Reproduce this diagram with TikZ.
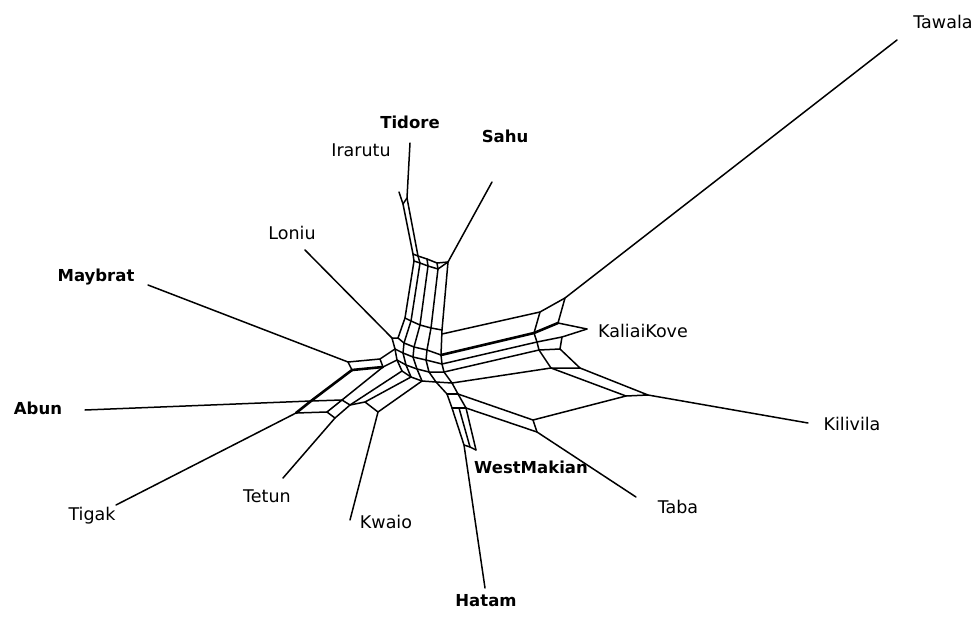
\documentclass[tikz,border=0pt]{standalone}
\usepackage{fontspec}
\newfontfamily\labfont{DejaVu Sans}
\begin{document}
\begin{tikzpicture}[x=1pt,y=-1pt,
  edge/.style={line width=1.5pt,line join=round,line cap=round},
  heavy/.style={line width=2.6pt,line join=round,line cap=round},
  taxon/.style={font=\labfont\fontsize{17.5}{21}\selectfont,inner sep=0pt},
  taxonb/.style={taxon,font=\labfont\bfseries\fontsize{16.5}{20}\selectfont}]
\useasboundingbox (0,0) rectangle (977,616);

% ---- taxon labels
\node[taxon]  (Tawala)     at (943,22)  {Tawala};
\node[taxonb] (Tidore)     at (410,122) {Tidore};
\node[taxonb] (Sahu)       at (505,136) {Sahu};
\node[taxon]  (Irarutu)    at (361,150) {Irarutu};
\node[taxon]  (Loniu)      at (292,233) {Loniu};
\node[taxonb] (Maybrat)    at (96,277)  {Maybrat};
\node[taxon]  (KaliaiKove) at (643,331) {KaliaiKove};
\node[taxonb] (Abun)       at (38,408)  {Abun};
\node[taxon]  (Kilivila)   at (852,424) {Kilivila};
\node[taxonb] (WestMakian) at (531,467) {WestMakian};
\node[taxon]  (Tetun)      at (267,496) {Tetun};
\node[taxon]  (Taba)       at (678,507) {Taba};
\node[taxon]  (Tigak)      at (92,516)  {Tigak};
\node[taxon]  (Kwaio)      at (386,522) {Kwaio};
\node[taxonb] (Hatam)      at (486,601) {Hatam};

% ---- outer ends of the pendant edges
\coordinate (tawE) at (897,40);
\coordinate (tidE) at (410,143);
\coordinate (irE)  at (399,192);
\coordinate (sahE) at (492,182);
\coordinate (lonE) at (305,250);
\coordinate (mayE) at (148,285);
\coordinate (kalE) at (587,329);
\coordinate (abuE) at (85,410);
\coordinate (kilE) at (808,423);
\coordinate (tabE) at (636,497);
\coordinate (tigE) at (116,505);
\coordinate (tetE) at (283,478);
\coordinate (kwaE) at (350,520);
\coordinate (hatE) at (485,588);

% ---- upper group (Tidore, Irarutu, Sahu)
\coordinate (ti1) at (407,198);
\coordinate (ir1) at (403,204);
\coordinate (a1) at (413,254); \coordinate (a2) at (418,256);
\coordinate (a3) at (427,259); \coordinate (a4) at (437,263);
\coordinate (a5) at (448,262);
\coordinate (b1) at (414,261); \coordinate (b2) at (420,263);
\coordinate (b3) at (428,266); \coordinate (b4) at (438,269);
\coordinate (c1) at (405,318); \coordinate (c2) at (411,321);
\coordinate (c3) at (420,325); \coordinate (c4) at (431,328);
\coordinate (c5) at (442,330);
\coordinate (d1) at (398,338); \coordinate (d2) at (404,343);
\coordinate (d3) at (414,347); \coordinate (d4) at (427,350);
\coordinate (d5) at (441,355);
\coordinate (P0) at (442,334);

% ---- central rings
\coordinate (lonA) at (392,338);
\coordinate (r1) at (395,349); \coordinate (r2) at (403,353);
\coordinate (r3) at (413,357); \coordinate (r4) at (426,360);
\coordinate (r5) at (442,364);
\coordinate (s1) at (397,360); \coordinate (s2) at (406,365);
\coordinate (s3) at (417,369); \coordinate (s4) at (429,372);
\coordinate (s5) at (444,372);
\coordinate (q1) at (402,371); \coordinate (q2) at (411,377);
\coordinate (q3) at (422,381); \coordinate (q4) at (436,382);
\coordinate (q5) at (452,383);

% ---- left group
\coordinate (mayA) at (348,362); \coordinate (M2) at (352,370);
\coordinate (mc1) at (380,359);  \coordinate (mc2) at (383,367);
\coordinate (abA) at (311,401);  \coordinate (tgA) at (296,413);
\coordinate (A2) at (342,400);   \coordinate (A3) at (327,412);
\coordinate (A4) at (335,418);   \coordinate (A5) at (350,405);
\coordinate (A6) at (365,402);   \coordinate (kwA) at (378,412);

% ---- right group
\coordinate (P1) at (540,312); \coordinate (Tw) at (565,298);
\coordinate (Q1) at (534,333); \coordinate (Q2) at (558,323);
\coordinate (R1) at (537,342); \coordinate (R2) at (562,337);
\coordinate (S1) at (539,350); \coordinate (S2) at (560,349);
\coordinate (T1) at (551,368); \coordinate (T2) at (580,368);
\coordinate (Kv1) at (626,396); \coordinate (Kv2) at (648,395);
\coordinate (Tb1) at (533,420); \coordinate (Tb2) at (537,432);

% ---- lower group (Hatam, WestMakian)
\coordinate (h1) at (447,394); \coordinate (h2) at (452,408);
\coordinate (hatA) at (464,445);
\coordinate (w1) at (458,394); \coordinate (w2) at (466,408);
\coordinate (m2) at (459,408); \coordinate (m3) at (470,447);
\coordinate (wmA) at (476,450);

% ================= edges
% upper
\draw[edge] (tidE) -- (ti1) -- (a2);
\draw[edge] (irE) -- (ir1) -- (a1);
\draw[edge] (ti1) -- (ir1);
\draw[edge] (sahE) -- (a5);
\draw[edge] (a1) -- (a2) -- (a3) -- (a4) -- (a5);
\draw[edge] (b1) -- (b2) -- (b3) -- (b4) -- (a5);
\draw[edge] (a1) -- (b1) (a2) -- (b2) (a3) -- (b3) (a4) -- (b4);
\draw[edge] (b1) -- (c1) (b2) -- (c2) (b3) -- (c3) (b4) -- (c4) (a5) -- (c5);
\draw[edge] (c1) -- (c2) -- (c3) -- (c4) -- (c5);
\draw[edge] (c1) -- (d1) (c2) -- (d2) (c3) -- (d3) (c4) -- (d4) (c5) -- (d5);
\draw[edge] (d1) -- (d2) -- (d3) -- (d4) -- (d5);

% centre
\draw[edge] (lonE) -- (lonA) -- (d1);
\draw[edge] (lonA) -- (r1);
\draw[edge] (d2) -- (r2) (d3) -- (r3) (d4) -- (r4) (d5) -- (r5);
\draw[edge] (r1) -- (r2) -- (r3) -- (r4) -- (r5);
\draw[edge] (r1) -- (s1) (r2) -- (s2) (r3) -- (s3) (r4) -- (s4) (r5) -- (s5);
\draw[edge] (s1) -- (s2) -- (s3) -- (s4) -- (s5);
\draw[edge] (s1) -- (q1) (s2) -- (q2) (s3) -- (q3) (s4) -- (q4) (s5) -- (q5);
\draw[edge] (q1) -- (q2) -- (q3) -- (q4) -- (q5);

% left
\draw[edge] (mayE) -- (mayA) -- (mc1) -- (r1);
\draw[edge] (mayA) -- (M2);
\draw[heavy] (M2) -- (mc2);
\draw[edge] (mc2) -- (s1);
\draw[edge] (mc1) -- (mc2);
\draw[heavy] (M2) -- (abA) -- (tgA);
\draw[edge] (abuE) -- (abA) -- (A2);
\draw[edge] (tgA) -- (A3) -- (A2) -- (mc2);
\draw[edge] (A3) -- (A4) -- (A5) -- (A2);
\draw[edge] (A5) -- (q1);
\draw[edge] (A5) -- (A6) -- (q2);
\draw[edge] (A6) -- (kwA) -- (q3);
\draw[edge] (tgA) -- (tigE);
\draw[edge] (A4) -- (tetE);
\draw[edge] (kwA) -- (kwaE);

% right
\draw[edge] (P0) -- (P1) -- (Tw) -- (tawE);
\draw[edge] (Tw) -- (Q2);
\draw[edge] (P1) -- (Q1);
\draw[heavy] (d5) -- (Q1) -- (Q2);
\draw[edge] (Q2) -- (kalE);
\draw[edge] (r5) -- (R1) -- (R2) -- (kalE);
\draw[edge] (R1) -- (Q1);
\draw[edge] (s5) -- (S1) -- (S2) -- (R2);
\draw[edge] (S1) -- (R1);
\draw[edge] (q5) -- (T1) -- (T2) -- (S2);
\draw[edge] (T1) -- (S1);
\draw[edge] (T1) -- (Kv1) -- (Kv2) -- (T2);
\draw[edge] (Kv2) -- (kilE);
\draw[edge] (Kv1) -- (Tb1) -- (Tb2) -- (tabE);
\draw[edge] (w1) -- (Tb1);
\draw[edge] (w2) -- (Tb2);

% lower
\draw[edge] (q4) -- (h1) -- (h2) -- (hatA) -- (hatE);
\draw[edge] (q5) -- (w1) -- (w2) -- (wmA);
\draw[edge] (h1) -- (w1);
\draw[edge] (h2) -- (m2) -- (w2);
\draw[edge] (m2) -- (m3);
\draw[edge] (hatA) -- (m3) -- (wmA);
\end{tikzpicture}
\end{document}
